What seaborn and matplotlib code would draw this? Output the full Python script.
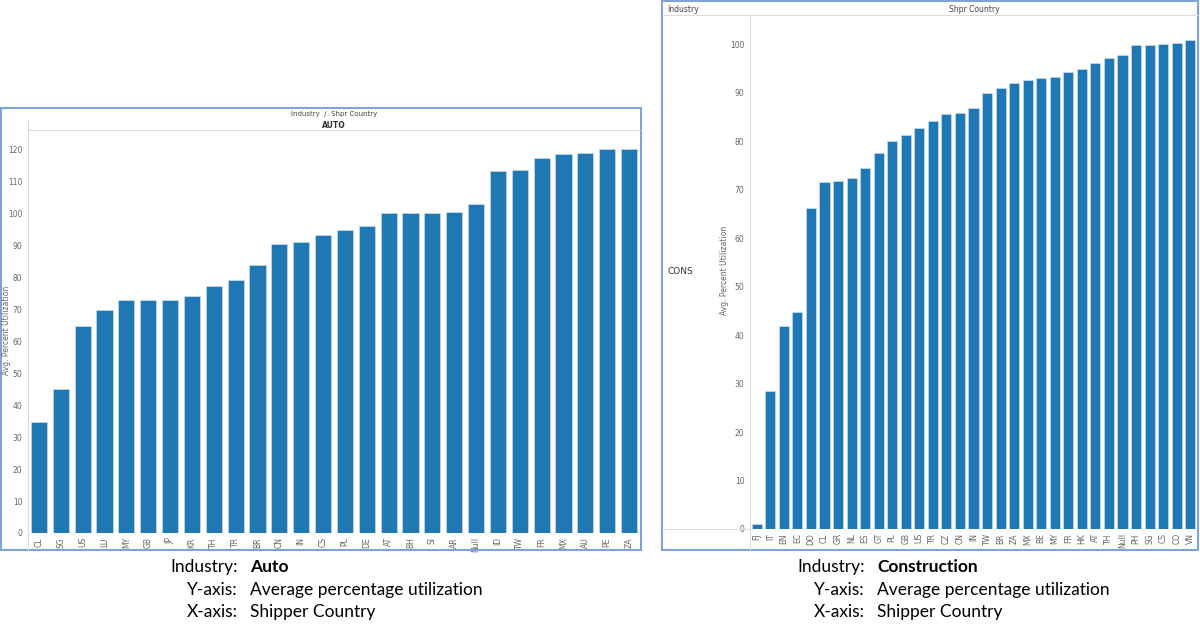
import matplotlib
matplotlib.use("Agg")
import matplotlib.pyplot as plt
from matplotlib.lines import Line2D
from matplotlib.patches import Rectangle
import seaborn as sns
import pandas as pd

# data
auto_countries = ['CL', 'SG', 'US', 'LU', 'MY', 'GB', 'JP', 'KR', 'TH', 'TR', 'BR', 'CN', 'IN', 'CS',
                  'PL', 'DE', 'AT', 'BH', 'SI', 'AR', 'Null', 'ID', 'TW', 'FR', 'MX', 'AU', 'PE', 'ZA']
auto_util = [34.8, 44.9, 64.8, 69.8, 72.7, 72.8, 73.0, 74.2, 77.2, 79.1, 83.9, 90.5, 91.1, 93.3,
             94.7, 96.1, 100.0, 100.0, 100.0, 100.4, 102.8, 113.1, 113.4, 117.3, 118.5, 118.9, 120.0, 120.0]

cons_countries = ['FJ', 'IT', 'EN', 'EC', 'DO', 'CL', 'GR', 'NL', 'ES', 'GT', 'PL', 'GB', 'US', 'TR',
                  'CZ', 'CN', 'IN', 'TW', 'BR', 'ZA', 'MX', 'BE', 'MY', 'FR', 'HK', 'AT', 'TH', 'Null',
                  'PH', 'SG', 'CS', 'CO', 'VN']
cons_util = [1.0, 28.5, 41.8, 44.8, 66.1, 71.6, 71.7, 72.3, 74.5, 77.5, 80.0, 81.3, 82.7, 84.2,
             85.5, 85.8, 86.8, 89.9, 91.0, 91.9, 92.5, 93.0, 93.2, 94.2, 94.8, 96.0, 97.2, 97.7,
             99.9, 99.9, 100.1, 100.3, 100.8]

W, H = 1200, 635
BLUE = '#1f77b4'
FRAME = '#7da3d8'
GREY = '#666666'
LINE = '#dddddd'

sns.set_style("white")
plt.rcParams['font.family'] = ['DejaVu Sans']

fig = plt.figure(figsize=(12, 6.35), dpi=100)


def box(x0, y0, x1, y1):
    # pixel box (top-left origin) -> figure fraction rect
    return [x0 / W, 1 - y1 / H, (x1 - x0) / W, (y1 - y0) / H]


def hline(x0, x1, y, color=LINE, lw=0.8):
    fig.add_artist(Line2D([x0 / W, x1 / W], [1 - y / H, 1 - y / H], color=color, lw=lw,
                          transform=fig.transFigure))


def vline(x, y0, y1, color=LINE, lw=0.8):
    fig.add_artist(Line2D([x / W, x / W], [1 - y0 / H, 1 - y1 / H], color=color, lw=lw,
                          transform=fig.transFigure))


def draw_bars(ax, cats, vals, ymax):
    df = pd.DataFrame({'country': cats, 'util': vals})
    sns.barplot(data=df, x='country', y='util', color=BLUE, width=0.74, ax=ax,
                edgecolor='#c9dcee', linewidth=0.5, saturation=1)
    ax.set_ylim(0, ymax)
    ax.set_yticks(range(0, int(ymax) // 10 * 10 + 1, 10))
    ax.set_xlabel('')
    ax.set_ylabel('')
    for s in ax.spines.values():
        s.set_visible(False)
    ax.tick_params(axis='x', rotation=90, labelsize=5.5, colors=GREY, length=0, pad=3)
    ax.tick_params(axis='y', labelsize=5.5, colors=GREY, length=2, width=0.5, pad=2)
    ax.set_facecolor('none')


# ---- left panel: AUTO
ax1 = fig.add_axes(box(28, 130, 640, 533))
draw_bars(ax1, auto_countries, auto_util, 126)
fig.add_artist(Rectangle((1 / W, 1 - 550 / H), 640 / W, 442 / H, fill=False,
                         edgecolor=FRAME, lw=1.5, transform=fig.transFigure))
hline(28, 640, 130)
vline(28, 120, 550)
fig.text(334 / W, 1 - 114 / H, 'Industry  /  Shpr Country', ha='center', va='center',
         fontsize=5, color='#444444')
fig.text(334 / W, 1 - 125 / H, 'AUTO', ha='center', va='center', fontsize=5.5,
         color='#333333', fontweight='bold')
fig.text(7 / W, 1 - 330 / H, 'Avg. Percent Utilization', rotation=90, ha='center',
         va='center', fontsize=5.5, color=GREY)

# ---- right panel: CONS
ax2 = fig.add_axes(box(750, 15, 1197, 529))
draw_bars(ax2, cons_countries, cons_util, 106)
fig.add_artist(Rectangle((662 / W, 1 - 550 / H), 536 / W, 549 / H, fill=False,
                         edgecolor=FRAME, lw=1.5, transform=fig.transFigure))
hline(662, 1198, 15)
vline(750, 15, 550)
hline(662, 750, 529)
fig.text(667 / W, 1 - 9 / H, 'Industry', ha='left', va='center', fontsize=5.5, color='#444444')
fig.text(974 / W, 1 - 9 / H, 'Shpr Country', ha='center', va='center', fontsize=5.5,
         color='#444444')
fig.text(667 / W, 1 - 272 / H, 'CONS', ha='left', va='center', fontsize=6.5, color='#333333')
fig.text(724 / W, 1 - 270 / H, 'Avg. Percent Utilization', rotation=90, ha='center',
         va='center', fontsize=5.5, color=GREY)

# ---- captions under each panel
captions = [('Industry:', 'Auto', 'Construction'),
            ('Y-axis:', 'Average percentage utilization', 'Average percentage utilization'),
            ('X-axis:', 'Shipper Country', 'Shipper Country')]
rows_y = [567, 590, 612]
for (lab, left_txt, right_txt), y in zip(captions, rows_y):
    bold = lab == 'Industry:'
    for xl, txt in [(238, left_txt), (865, right_txt)]:
        fig.text(xl / W, 1 - y / H, lab, ha='right', va='center', fontsize=12.5,
                 family='Lato', color='black')
        fig.text((xl + 12) / W, 1 - y / H, txt, ha='left', va='center', fontsize=12.5,
                 family='Lato', color='black', fontweight='bold' if bold else 'normal')

fig.savefig('out.png', dpi=100)
